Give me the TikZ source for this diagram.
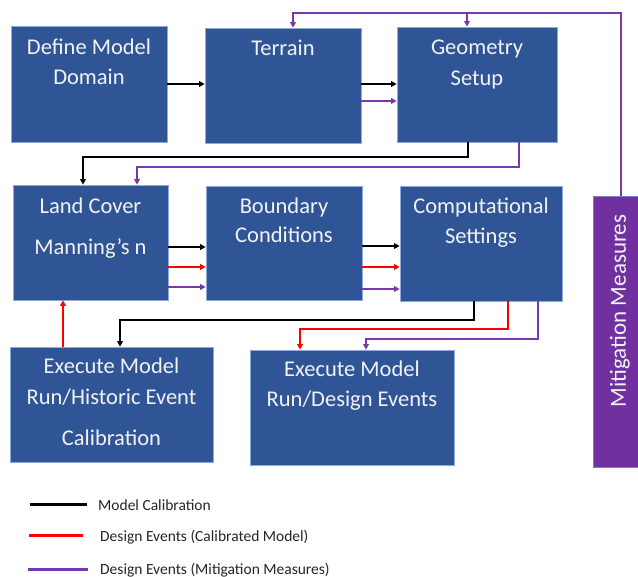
\documentclass[tikz,border=0pt]{standalone}
\usepackage{fontspec}
\setmainfont{Carlito}
\usetikzlibrary{arrows.meta}
\definecolor{boxblue}{HTML}{2F5597}
\definecolor{boxedge}{HTML}{8EA9DB}
\definecolor{mpurple}{HTML}{7030A0}
\definecolor{lpurple}{HTML}{7A35B0}
\definecolor{txtwhite}{HTML}{F2F2F2}
\definecolor{legtxt}{HTML}{262626}
\tikzset{
  box/.style={rectangle, fill=boxblue, draw=boxedge, line width=0.6pt, inner sep=0pt},
  mbox/.style={rectangle, fill=mpurple, draw=boxedge!60!mpurple, line width=0.6pt, inner sep=0pt},
  btxt/.style={anchor=base, text=txtwhite, font=\fontsize{22.5}{27}\selectfont, inner sep=0pt},
  ltxt/.style={anchor=base west, text=legtxt, font=\fontsize{15.5}{18}\selectfont, inner sep=0pt},
  tip/.style={-{Triangle[length=5.5pt,width=5.5pt]}},
  blk/.style={draw=black, line width=1.6pt, tip},
  rd/.style={draw=red, line width=1.6pt, tip},
  pu/.style={draw=lpurple, line width=1.6pt, tip},
  pl/.style={draw=lpurple, line width=1.6pt},
}
\begin{document}
\begin{tikzpicture}[x=1pt,y=-1pt]
\useasboundingbox (0,0) rectangle (638,577);
\fill[white] (0,0) rectangle (638,577);

% boxes
\node[box, minimum width=156pt, minimum height=116pt] (define) at (89,84) {};
\node[box, minimum width=156pt, minimum height=115pt] (terrain) at (283,85.5) {};
\node[box, minimum width=160pt, minimum height=115pt] (geometry) at (477,84.5) {};
\node[box, minimum width=155pt, minimum height=115pt] (land) at (90.5,242.5) {};
\node[box, minimum width=156pt, minimum height=114pt] (boundary) at (284,243) {};
\node[box, minimum width=162pt, minimum height=115pt] (comp) at (481,243.5) {};
\node[box, minimum width=203pt, minimum height=115pt] (historic) at (111.5,404.5) {};
\node[box, minimum width=204pt, minimum height=115pt] (design) at (352,407.5) {};
\node[mbox, minimum width=45pt, minimum height=271pt] (mit) at (615.5,331.5) {};

% box texts
\node[btxt] (t1a) at (89,55) {Define Model};
\node[btxt] (t1b) at (89,85) {Domain};
\node[btxt] (t2a) at (283,56) {Terrain};
\node[btxt] (t3a) at (477,55) {Geometry};
\node[btxt] (t3b) at (477,86) {Setup};
\node[btxt] (t4a) at (90.5,214) {Land Cover};
\node[btxt] (t4b) at (90.5,255) {Manning’s n};
\node[btxt] (t5a) at (284,214) {Boundary};
\node[btxt] (t5b) at (284,243) {Conditions};
\node[btxt] (t6a) at (481,214) {Computational};
\node[btxt] (t6b) at (481,244) {Settings};
\node[btxt] (t7a) at (111.5,374) {Execute Model};
\node[btxt] (t7b) at (111.5,405) {Run/Historic Event};
\node[btxt] (t7c) at (111.5,446) {Calibration};
\node[btxt] (t8a) at (352,377) {Execute Model};
\node[btxt] (t8b) at (352,407) {Run/Design Events};
\node[text=txtwhite, font=\fontsize{23}{27}\selectfont, rotate=90, inner sep=0pt] (t9) at (620,311) {Mitigation Measures};

% top row connectors
\draw[blk] (define.east |- 0,84) -- (terrain.west |- 0,84);
\draw[blk] (terrain.east |- 0,84) -- (geometry.west |- 0,84);
\draw[pu] (terrain.east |- 0,101) -- (geometry.west |- 0,101);

% mitigation feedback
\coordinate (mtop) at (621,13);
\draw[pu] (mit.north -| 621,0) -- (mtop) -- (293,13) -- (terrain.north -| 293,0);
\draw[pu] (467,13) -- (geometry.north -| 467,0);

% geometry -> land cover
\draw[blk] (geometry.south -| 468,0) -- (468,157) -- (83,157) -- (land.north -| 83,0);
\draw[pu] (geometry.south -| 519,0) -- (519,167) -- (137,167) -- (land.north -| 137,0);

% middle row
\draw[blk] (land.east |- 0,247) -- (boundary.west |- 0,247);
\draw[rd] (land.east |- 0,267) -- (boundary.west |- 0,267);
\draw[pu] (land.east |- 0,287) -- (boundary.west |- 0,287);
\draw[blk] (boundary.east |- 0,246) -- (comp.west |- 0,246);
\draw[rd] (boundary.east |- 0,267) -- (comp.west |- 0,267);
\draw[pu] (boundary.east |- 0,289) -- (comp.west |- 0,289);

% historic -> land cover
\draw[rd] (historic.north -| 63,0) -- (land.south -| 63,0);

% computational -> execute boxes
\draw[blk] (comp.south -| 474,0) -- (474,320) -- (120,320) -- (historic.north -| 120,0);
\draw[rd] (comp.south -| 508,0) -- (508,329) -- (300,329) -- (design.north -| 300,0);
\draw[pu] (comp.south -| 538,0) -- (538,339) -- (366,339) -- (design.north -| 366,0);

% legend
\coordinate (l1a) at (30,505); \coordinate (l1b) at (87,505);
\coordinate (l2a) at (29,536); \coordinate (l2b) at (83,536);
\coordinate (l3a) at (28,569); \coordinate (l3b) at (88,569);
\draw[black, line width=3pt] (l1a) -- (l1b);
\draw[red, line width=3pt] (l2a) -- (l2b);
\draw[lpurple, line width=3pt] (l3a) -- (l3b);
\node[ltxt] (lg1) at (98,511) {Model Calibration};
\node[ltxt] (lg2) at (100,541.5) {Design Events (Calibrated Model)};
\node[ltxt] (lg3) at (100,574.5) {Design Events (Mitigation Measures)};
\end{tikzpicture}
\end{document}
